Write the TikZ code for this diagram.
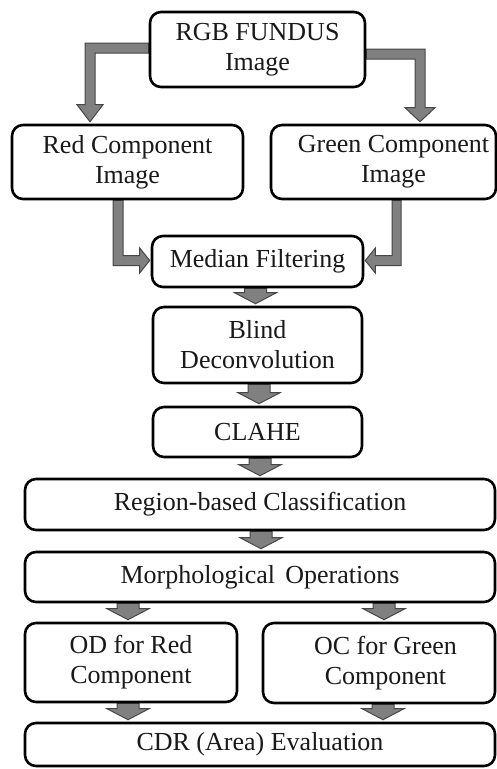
\documentclass[tikz,border=0pt]{standalone}
\usepackage{fontspec}
\setmainfont{Liberation Serif}
\usetikzlibrary{calc,backgrounds}

\definecolor{arrowfill}{RGB}{128,128,128}
\definecolor{arrowedge}{RGB}{70,70,70}
\definecolor{inktext}{RGB}{25,25,25}

\tikzset{
  box/.style={draw=black, line width=2.6pt, rounded corners=11pt, fill=white,
    inner sep=0pt, align=center, text=inktext,
    font=\fontsize{26}{30}\selectfont},
  fatarrow/.style={fill=arrowfill, draw=arrowedge, line width=1pt, line join=miter},
}

% block arrow pointing down at horizontal position #3, from node #1 to node #2
\newcommand\dropArrow[3]{%
  \draw[fatarrow] let \p1=(#1.south), \p2=(#2.north) in
    (#3-11,\y1) -- (#3+11,\y1) -- (#3+11,\y2+13pt) -- (#3+21,\y2+13pt)
    -- (#3,\y2+2pt) -- (#3-21,\y2+13pt) -- (#3-11,\y2+13pt) -- cycle;}

\begin{document}
\begin{tikzpicture}[x=1pt,y=-1pt]
\useasboundingbox (0,0) rectangle (497,769);

% process boxes
\node[box, minimum width=215, minimum height=75] (rgb)    at (257.5,49.5) {RGB FUNDUS\\Image};
\node[box, minimum width=231, minimum height=74] (red)    at (127.5,162)  {Red Component\\Image};
\node[box, minimum width=225, minimum height=74] (green)  at (383.5,162)  {\hspace*{20pt}Green Component\\\hspace*{20pt}Image};
\node[box, minimum width=211, minimum height=51] (median) at (257.5,261.5) {Median Filtering};
\node[box, minimum width=209, minimum height=76] (blind)  at (257.5,345)  {Blind\\Deconvolution};
\node[box, minimum width=209, minimum height=50] (clahe)  at (257.5,432)  {CLAHE};
\node[box, minimum width=470, minimum height=51] (region) at (260,504.5)  {Region-based Classification};
\node[box, minimum width=470, minimum height=50] (morph)  at (260,577)    {Morphological\hspace{0.39em}Operations};
\node[box, minimum width=212, minimum height=79] (od)     at (131,662.5)  {OD for Red\\Component};
\node[box, minimum width=232, minimum height=80] (oc)     at (379,663)    {\hspace*{13pt}OC for Green\\\hspace*{13pt}Component};
\node[box, minimum width=470, minimum height=43] (cdr)    at (260,744.5)  {CDR (Area) Evaluation};

\begin{scope}[on background layer]
  % split of the RGB image into its two channels
  \draw[fatarrow] let \p1=(rgb.west), \p2=(red.north) in
    (\x1,\y1+6.5pt) -- (85,\y1+6.5pt) -- (85,\y2+19pt) -- (77,\y2+19pt)
    -- (90,\y2+2pt) -- (103,\y2+19pt) -- (95,\y2+19pt) -- (95,\y1-3.5pt)
    -- (\x1,\y1-3.5pt) -- cycle;
  \draw[fatarrow] let \p1=(rgb.east), \p2=(green.north) in
    (\x1,\y1+0.5pt) -- (425,\y1+0.5pt) -- (425,\y2+16pt) -- (435,\y2+16pt)
    -- (420,\y2+2pt) -- (405,\y2+16pt) -- (415,\y2+16pt) -- (415,\y1-9.5pt)
    -- (\x1,\y1-9.5pt) -- cycle;
  % both channels into the median filter
  \draw[fatarrow] let \p1=(red.south), \p2=(median.west) in
    (113,\y1) -- (123,\y1) -- (123,\y2+6pt) -- (\x2-11pt,\y2+6pt)
    -- (\x2-11pt,\y2+13.5pt) -- (\x2-1pt,\y2+1pt) -- (\x2-11pt,\y2-11.5pt)
    -- (\x2-11pt,\y2-4pt) -- (113,\y2-4pt) -- cycle;
  \draw[fatarrow] let \p1=(green.south), \p2=(median.east) in
    (401,\y1) -- (392,\y1) -- (392,\y2+6pt) -- (\x2+11pt,\y2+6pt)
    -- (\x2+11pt,\y2+13.5pt) -- (\x2+1pt,\y2+1pt) -- (\x2+11pt,\y2-11.5pt)
    -- (\x2+11pt,\y2-4pt) -- (401,\y2-4pt) -- cycle;
  % main chain
  \dropArrow{median}{blind}{255.5}
  \dropArrow{blind}{clahe}{259}
  \dropArrow{clahe}{region}{260}
  \dropArrow{region}{morph}{261}
  \dropArrow{morph}{od}{128}
  \dropArrow{morph}{oc}{384}
  \dropArrow{od}{cdr}{128}
  \dropArrow{oc}{cdr}{383}
\end{scope}
\end{tikzpicture}
\end{document}
